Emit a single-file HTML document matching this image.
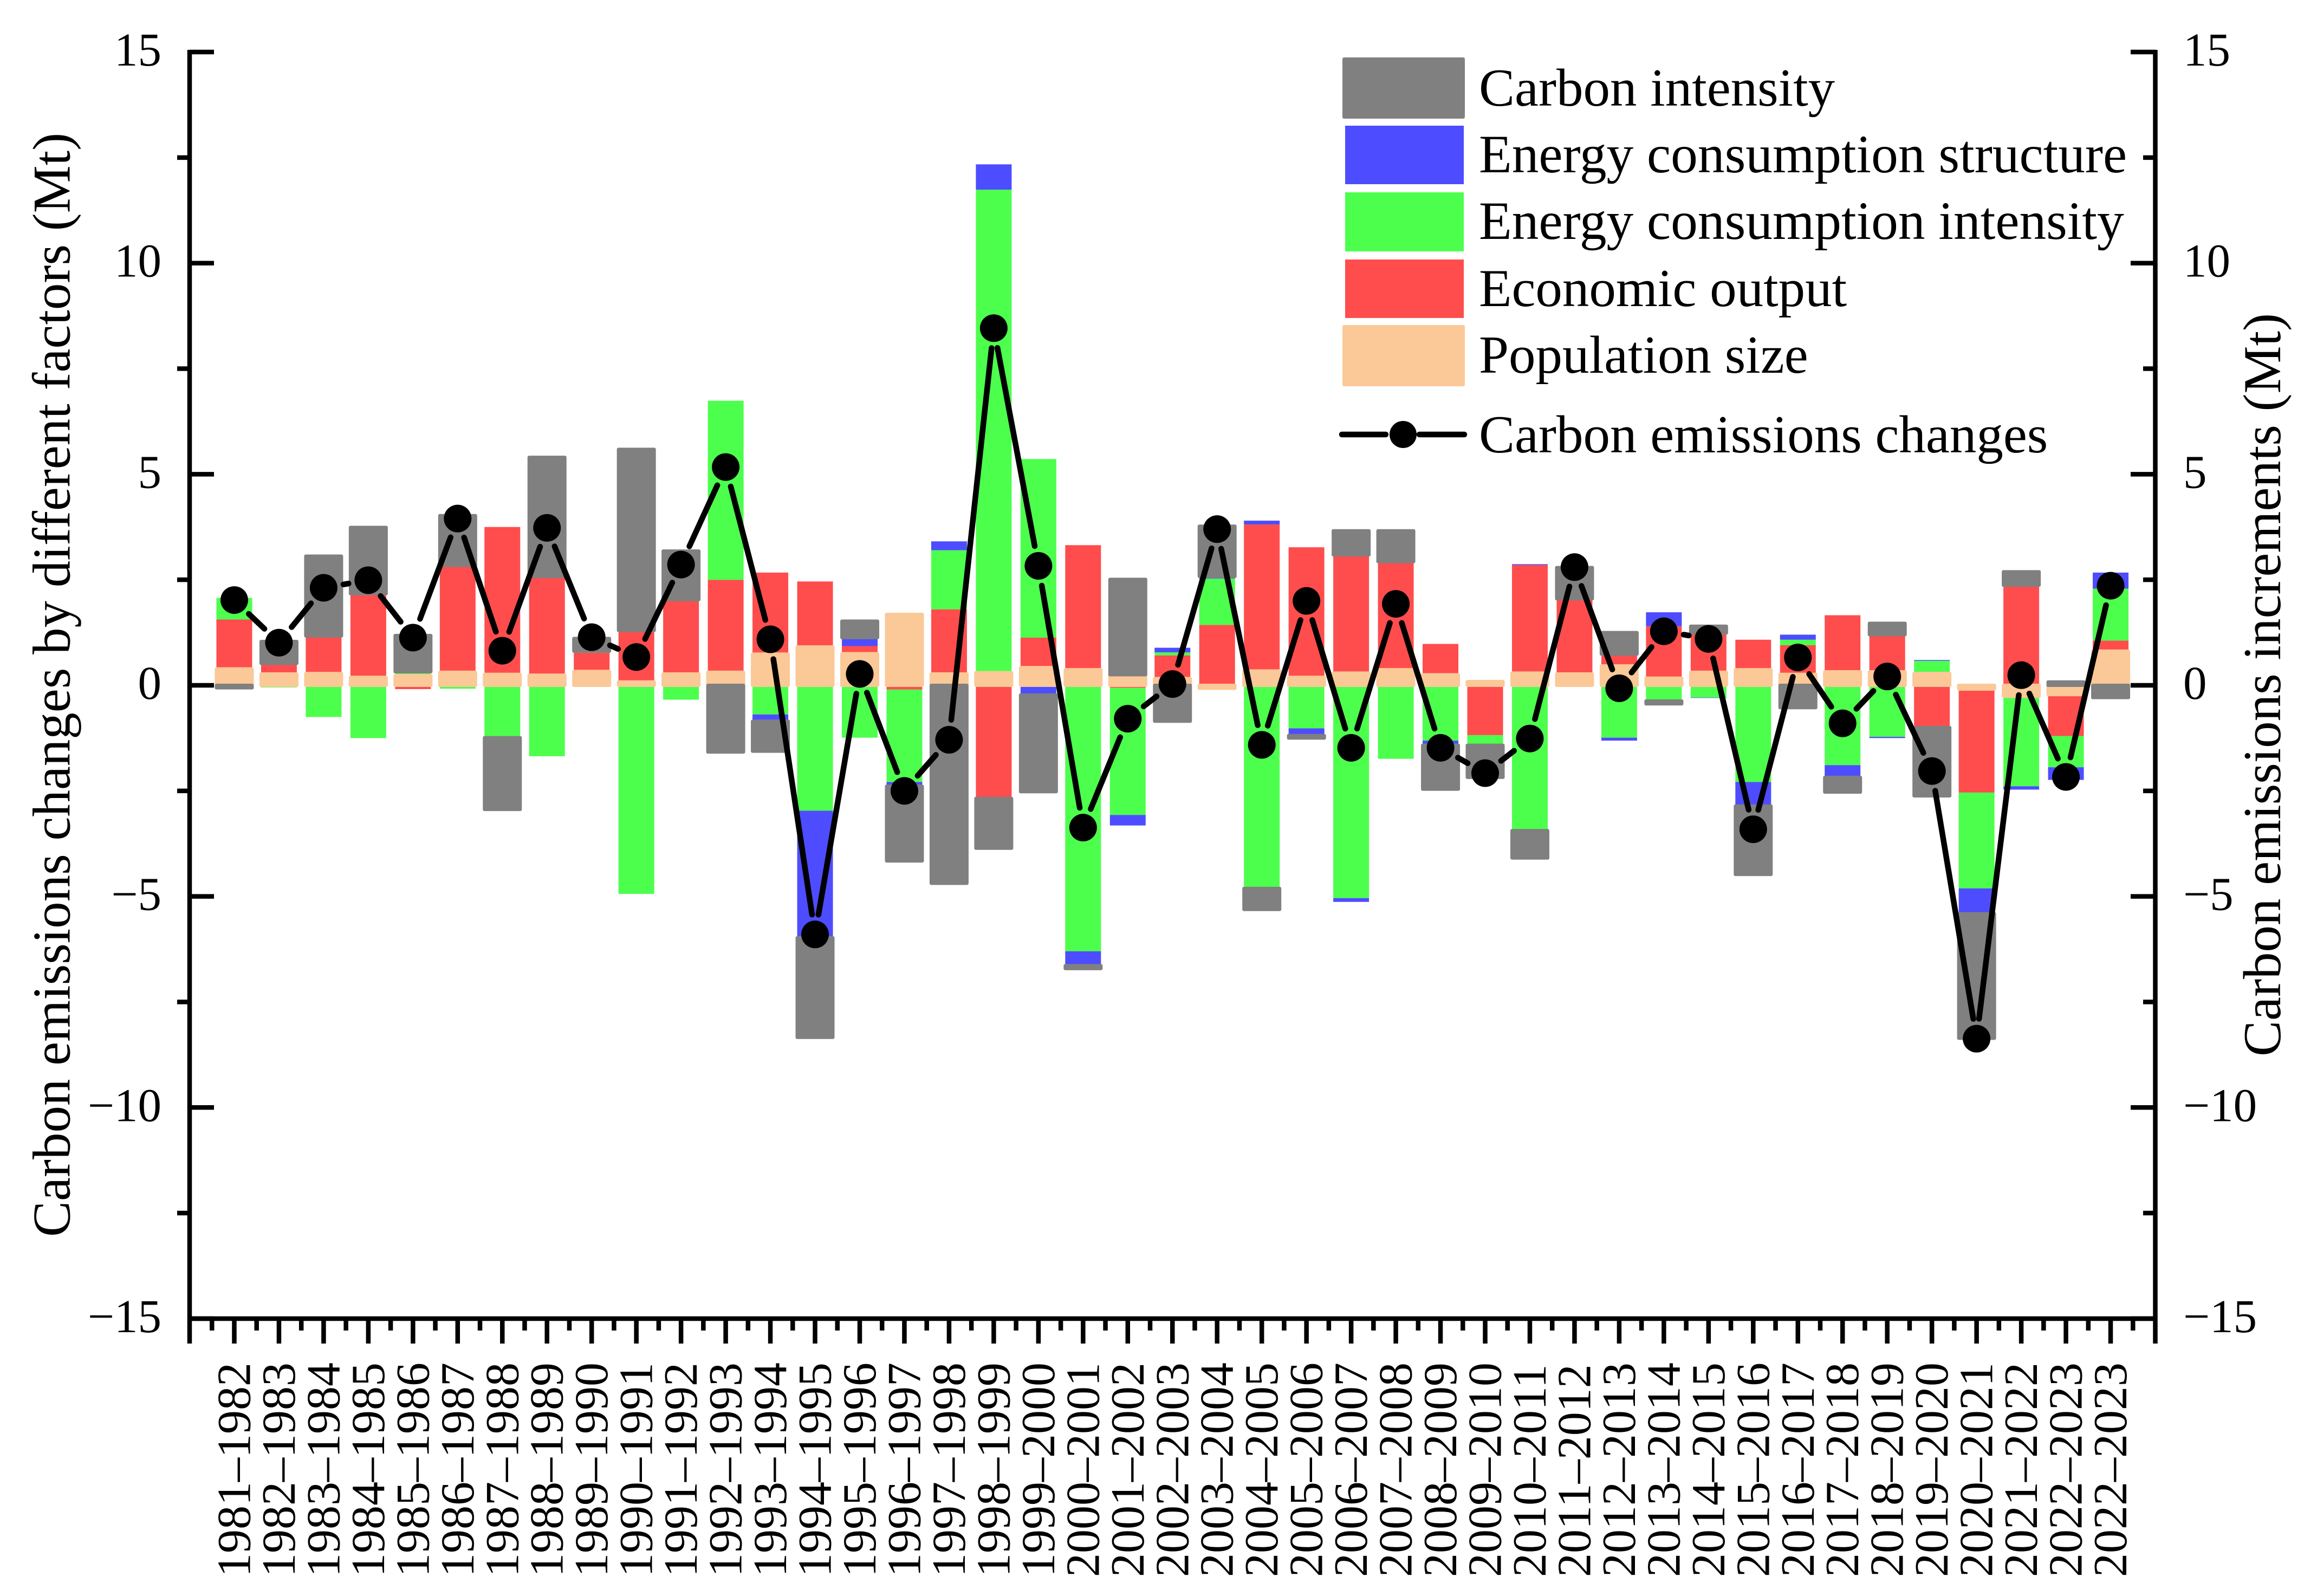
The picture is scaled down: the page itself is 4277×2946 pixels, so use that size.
<!DOCTYPE html>
<html lang="en">
<head>
<meta charset="utf-8">
<title>Carbon emissions changes by different factors</title>
<style>
html,body{margin:0;padding:0;background:#fff;}
svg{display:block;}
text{font-family:"Liberation Serif","Times New Roman",serif;fill:#000;}
</style>
</head>
<body>
<svg id="chart" xmlns="http://www.w3.org/2000/svg" width="4277" height="2946" viewBox="0 0 4277 2946">
  <rect x="0" y="0" width="4277" height="2946" fill="#ffffff"/>
  <g id="bars"></g>
  <g id="line"></g>
  <g id="axes"></g>

  <text transform="translate(128.5,1264) rotate(-90)" text-anchor="middle" font-size="99">Carbon emissions changes by different factors (Mt)</text>
  <text transform="translate(4209,1264) rotate(-90)" text-anchor="middle" font-size="99">Carbon emissions increments (Mt)</text>

  <g>
    <g>
      <rect x="2478" y="106" width="226" height="113" rx="3" fill="#808080"/>
      <text x="2730" y="195" font-size="99">Carbon intensity</text>
    </g>
    <g>
      <rect x="2483" y="232" width="219" height="108" fill="#4d4dff"/>
      <text x="2730" y="318" font-size="99.4">Energy consumption structure</text>
    </g>
    <g>
      <rect x="2483" y="355" width="219" height="109" fill="#4dff4d"/>
      <text x="2730" y="441" font-size="99.4">Energy consumption intensity</text>
    </g>
    <g>
      <rect x="2483" y="479" width="219" height="108" fill="#ff4d4d"/>
      <text x="2730" y="565" font-size="99">Economic output</text>
    </g>
    <g>
      <rect x="2478" y="600" width="226" height="113" rx="3" fill="#fbc897"/>
      <text x="2730" y="688" font-size="99">Population size</text>
    </g>
    <g>
      <line x1="2477" y1="802" x2="2558" y2="802" stroke="#000" stroke-width="10.5" stroke-linecap="round"/>
      <line x1="2620" y1="802" x2="2703" y2="802" stroke="#000" stroke-width="10.5" stroke-linecap="round"/>
      <circle cx="2590" cy="802" r="25" fill="#000"/>
      <text x="2730" y="835" font-size="99">Carbon emissions changes</text>
    </g>
  </g>
</svg>
<script>
var categories = ["1981–1982","1982–1983","1983–1984","1984–1985","1985–1986","1986–1987","1987–1988","1988–1989","1989–1990","1990–1991","1991–1992","1992–1993","1993–1994","1994–1995","1995–1996","1996–1997","1997–1998","1998–1999","1999–2000","2000–2001","2001–2002","2002–2003","2003–2004","2004–2005","2005–2006","2006–2007","2007–2008","2008–2009","2009–2010","2010–2011","2011–2012","2012–2013","2013–2014","2014–2015","2015–2016","2016–2017","2017–2018","2018–2019","2019–2020","2020–2021","2021–2022","2022–2023","2022–2023"];
var populationSize = [0.39,0.27,0.28,0.19,0.23,0.31,0.26,0.24,0.33,0.08,0.27,0.31,0.74,0.91,0.75,1.68,0.27,0.30,0.42,0.37,0.25,0.16,-0.07,0.34,0.19,0.29,0.37,0.25,0.09,0.29,0.27,0.46,0.17,0.31,0.37,0.26,0.32,0.32,0.28,-0.09,-0.26,-0.22,0.81];
var economicOutput = [1.17,0.25,0.89,1.98,-0.09,2.53,3.49,2.34,0.44,1.22,1.76,2.19,1.93,1.55,0.18,-0.10,1.53,-2.68,0.71,2.95,-0.06,0.55,1.43,3.47,3.08,2.80,2.54,0.73,-1.18,2.56,1.78,0.28,1.23,0.93,0.71,0.69,1.34,0.88,-1.00,-2.45,2.37,-0.98,0.25];
var energyIntensity = [0.51,-0.05,-0.75,-1.25,0.09,-0.08,-1.24,-1.68,0.04,-4.94,-0.34,4.24,-0.69,-2.97,-1.24,-2.19,1.40,11.44,4.23,-6.30,-3.01,0.07,1.10,-4.81,-1.02,-5.04,-1.74,-1.31,-0.24,-3.44,0,-1.24,-0.37,-0.29,-2.29,0.13,-1.89,-1.22,0.30,-2.27,-2.13,-0.74,1.23];
var energyStructure = [0,0,0,0,0,0,0,0,0,0,0,0,-0.16,-3.01,0.20,-0.10,0.21,0.60,-0.23,-0.34,-0.25,0.11,0.05,0.09,-0.17,-0.09,0.02,-0.11,0,0.02,0,-0.07,0.33,-0.01,-0.57,0.12,-0.29,-0.03,0.02,-0.60,-0.08,-0.30,0.38];
var carbonIntensity = [-0.06,0.52,1.89,1.57,0.86,1.18,-1.70,2.82,0.30,4.29,1.15,-1.58,-0.71,-2.36,0.39,-1.77,-4.69,-1.18,-2.29,-0.07,2.26,-0.85,1.19,-0.50,-0.06,0.57,0.73,-1.04,-0.76,-0.65,0.74,0.51,-0.07,0.16,-1.62,-0.53,-0.35,0.27,-1.62,-2.95,0.32,0.08,-0.29];
var emissionChanges = [2.02,1.01,2.31,2.49,1.13,3.95,0.82,3.73,1.14,0.67,2.86,5.17,1.09,-5.90,0.27,-2.50,-1.29,8.46,2.83,-3.37,-0.79,0.03,3.70,-1.41,2.00,-1.48,1.93,-1.48,-2.08,-1.26,2.80,-0.07,1.28,1.10,-3.41,0.66,-0.90,0.21,-2.03,-8.37,0.24,-2.17,2.36];
var yTickLabels = [15,10,5,0,-5,-10,-15];
var yMinorTicks = [12.5,7.5,2.5,-2.5,-7.5,-12.5];

var SVGNS = "http://www.w3.org/2000/svg";
var xLeft = 350, xRight = 3978.5, yZero = 1265, yUnit = 77.93, barWidth = 66;
var step = (xRight - xLeft) / 44;
function xScale(i) { return xLeft + step * (i + 1); }
function yScale(v) { return yZero - v * yUnit; }
function make(tag, parent, attrs) {
  var el = document.createElementNS(SVGNS, tag);
  for (var k in attrs) { el.setAttribute(k, attrs[k]); }
  parent.appendChild(el);
  return el;
}

var barsGroup = document.getElementById("bars");
var flatLayer = make("g", barsGroup, {});


var edgeLayer = make("g", barsGroup, {});



var stackOrder = [
  {key: "population-size", values: populationSize, color: "#fbc897", edge: true},
  {key: "economic-output", values: economicOutput, color: "#ff4d4d", edge: false},
  {key: "energy-intensity", values: energyIntensity, color: "#4dff4d", edge: false},
  {key: "energy-structure", values: energyStructure, color: "#4d4dff", edge: false},
  {key: "carbon-intensity", values: carbonIntensity, color: "#808080", edge: true}
];

categories.forEach(function (cat, i) {
  var pos = 0, neg = 0;
  stackOrder.forEach(function (s) {
    var v = s.values[i];
    if (!v) { return; }
    var start = v > 0 ? pos : neg;
    var end = start + v;
    if (v > 0) { pos = end; } else { neg = end; }
    var y1 = yScale(Math.max(start, end));
    var y2 = yScale(Math.min(start, end));
    var bar = make("rect", s.edge ? edgeLayer : flatLayer, {
      x: xScale(i) - barWidth / 2,
      y: y1,
      width: barWidth,
      height: y2 - y1,
      fill: s.color,
      stroke: s.edge ? s.color : "none",
      "stroke-width": s.edge ? 6 : 0,
      "stroke-linejoin": "round"
    });
    
    
  });
});

var lineGroup = document.getElementById("line");
var gap = 37;
emissionChanges.forEach(function (v, i) {
  if (i === 0) { return; }
  var x0 = xScale(i - 1), y0 = yScale(emissionChanges[i - 1]);
  var x1 = xScale(i), y1 = yScale(v);
  var dx = x1 - x0, dy = y1 - y0, d = Math.sqrt(dx * dx + dy * dy);
  if (d <= 2 * gap) { return; }
  var ux = dx / d, uy = dy / d;
  var seg = make("line", lineGroup, {
    x1: x0 + ux * gap, y1: y0 + uy * gap,
    x2: x1 - ux * gap, y2: y1 - uy * gap,
    stroke: "#000", "stroke-width": 10.5, "stroke-linecap": "round"
  });
  
  
});
emissionChanges.forEach(function (v, i) {
  var dot = make("circle", lineGroup, {cx: xScale(i), cy: yScale(v), r: 25.5, fill: "#000"});
  
  
});

var axes = document.getElementById("axes");
function axisLine(name, x1, y1, x2, y2) {
  var l = make("line", axes, {x1: x1, y1: y1, x2: x2, y2: y2, stroke: "#000", "stroke-width": 8.5});
  
  
}
var topY = yScale(15), bottomY = yScale(-15);
axisLine("y-axis-left", xLeft, topY - 4, xLeft, bottomY + 46);
axisLine("y-axis-right", xRight, topY - 4, xRight, bottomY + 46);
axisLine("x-axis", xLeft, bottomY, xRight, bottomY);

yTickLabels.forEach(function (v) {
  var y = yScale(v);
  axisLine("y-tick-left-" + v, xLeft, y, 395, y);
  axisLine("y-tick-right-" + v, 3933, y, xRight, y);
  var txt = String(v).replace("-", "\u2212");
  var tl = make("text", axes, {x: 298, y: y + 25, "text-anchor": "end", "font-size": 87});
  tl.textContent = txt;
  
  
  var tr = make("text", axes, {x: 4030, y: y + 25, "font-size": 87});
  tr.textContent = txt;
  
  
});
yMinorTicks.forEach(function (v) {
  var y = yScale(v);
  axisLine("y-minor-tick-left-" + v, 327, y, xLeft, y);
  axisLine("y-minor-tick-right-" + v, 3956, y, xRight, y);
});

categories.forEach(function (cat, i) {
  var x = xScale(i);
  axisLine("x-tick-" + i, x, bottomY, x, bottomY + 46);
  axisLine("x-minor-tick-" + i, x - step / 2, bottomY, x - step / 2, bottomY + 22);
  var label = make("text", axes, {
    transform: "translate(" + (x + 29) + ",2911) rotate(-90)",
    "font-size": 88
  });
  label.textContent = cat;
  
  
});
axisLine("x-minor-tick-last", xRight - step / 2, bottomY, xRight - step / 2, bottomY + 22);
</script>
</body>
</html>
